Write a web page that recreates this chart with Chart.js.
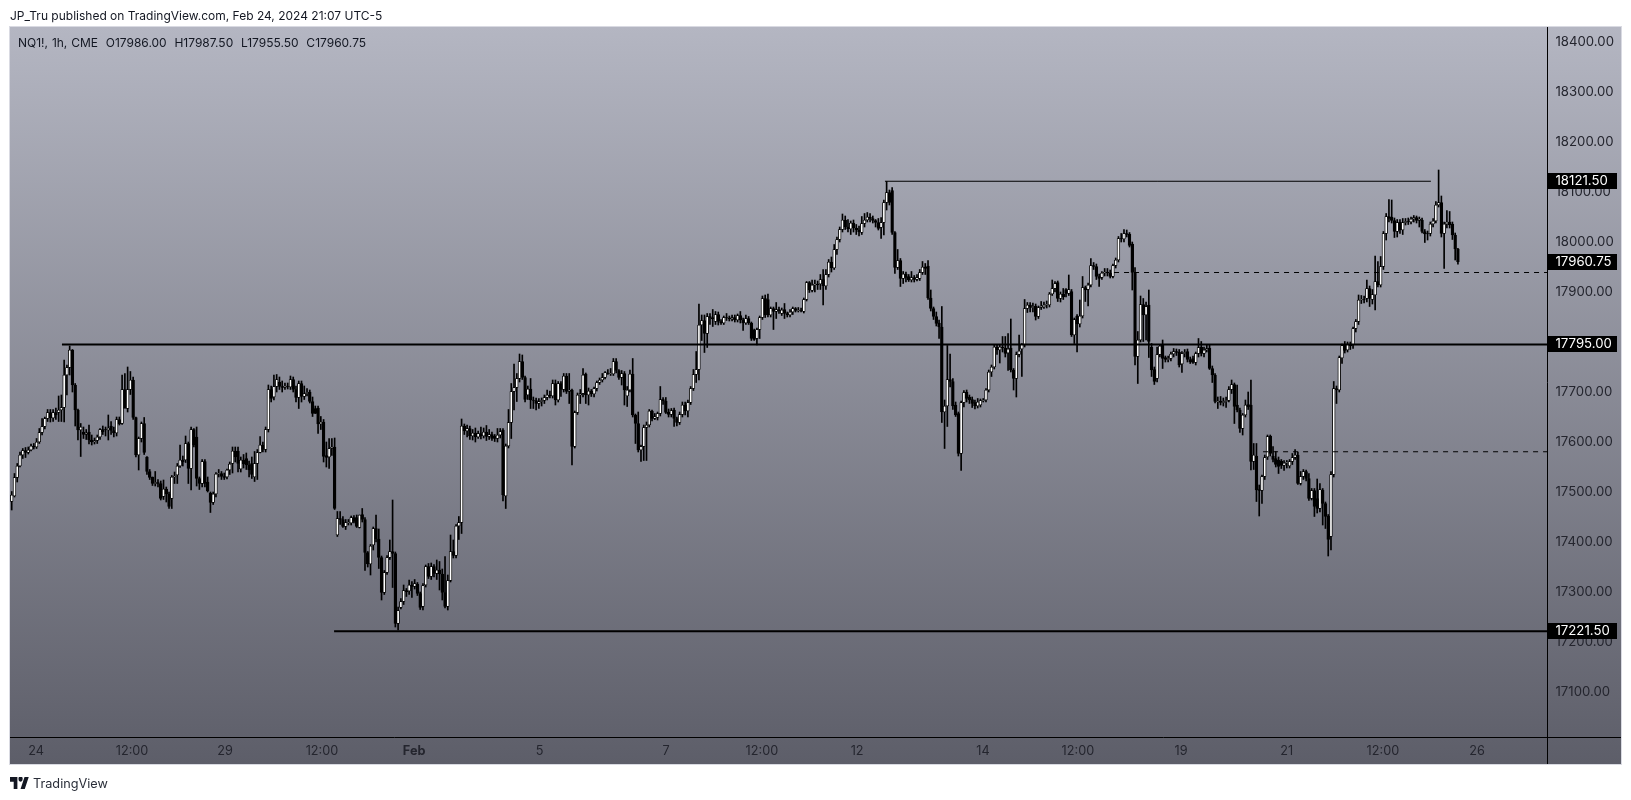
<!DOCTYPE html>
<html><head><meta charset="utf-8">
<script src="https://cdn.jsdelivr.net/npm/chart.js@4"></script>
<style>
html,body{margin:0;padding:0;background:#fff;width:1631px;height:800px;overflow:hidden}
#wrap{position:absolute;left:0;top:0;width:1631px;height:800px}
.t{position:absolute;font-family:Inter,"Noto Sans",sans-serif;color:#131722;white-space:pre}
#head{left:10px;top:7px;font-size:12px;line-height:18px}
#legend{left:18px;top:34px;font-size:12px;line-height:18px;word-spacing:0.5px}
#foot{left:33px;top:775px;font-size:12.7px;line-height:18px;color:#2a2e39}
#logo{position:absolute;left:10px;top:777px;width:19px;height:12px}
</style></head><body>
<div id="wrap"><canvas id="c" width="1631" height="800" style="width:1631px;height:800px;display:block"></canvas>
<div class="t" id="head">JP_Tru published on TradingView.com, Feb 24, 2024 21:07 UTC-5</div>
<div class="t" id="legend">NQ1!, 1h, CME  O17986.00  H17987.50  L17955.50  C17960.75</div>
<svg id="logo" viewBox="0 4 36 18" preserveAspectRatio="none"><path d="M14 22H7V11H0V4h14v18zM28 22h-8l7.5-18h8L28 22z" fill="#131722"/><circle cx="20" cy="7" r="4" fill="#131722"/></svg>
<div class="t" id="foot">TradingView</div></div>
<script>
const opens=[
17481,17492,17529,17552,17574,17583,17579,17584,17592,17590,
17600,17619,17631,17647,17659,17648,17659,17659,17664,17669,17734,
17749,17784,17714,17664,17624,17620,17615,17620,17604,17600,
17603,17610,17625,17625,17624,17632,17623,17618,17645,17637,17705,
17667,17705,17724,17649,17574,17607,17637,17570,17541,17530,
17517,17519,17517,17491,17506,17496,17487,17530,17534,17552,17564,
17564,17597,17547,17625,17610,17527,17517,17561,17520,17498,
17479,17496,17536,17537,17531,17530,17544,17557,17582,17582,17546,
17564,17567,17554,17557,17530,17557,17579,17594,17585,17625,
17705,17690,17711,17720,17711,17709,17712,17710,17725,17705,
17689,17717,17691,17697,17700,17681,17667,17668,17636,17640,
17573,17570,17587,17590,
17414,17447,17445,17431,17439,17438,17449,17449,17429,17455,
17445,17379,17356,17394,17427,17406,17369,17299,17339,17369,
17381,17377,17237,17269,17281,17303,17302,17314,17311,17316,
17297,17271,17314,17351,17331,17351,17337,17344,17336,17299,
17271,17323,17381,17373,17432,17439,
17632,17622,17627,17612,17618,17610,17617,17612,17620,17611,17615,
17612,17607,17614,17624,17492,17592,17639,17701,17709,17727,
17761,17729,17694,17706,17684,17683,17677,17681,17683,17689,
17694,17692,17717,17684,17717,17705,17732,17701,17704,17591,
17659,17694,17697,17736,17694,17702,17696,17707,17719,17724,
17729,17738,17737,17736,17761,17743,17729,17737,17692,17704,
17736,17654,17637,17584,17591,17629,17634,17662,17647,17649,
17657,17685,17682,17660,17655,17664,17647,17639,17655,
17674,17662,17679,17707,17735,17745,17834,17843,17817,17851,
17849,17841,17855,17841,17838,17849,17848,17846,17849,17844,
17853,17844,17838,17847,17838,17824,17807,17825,17849,17887,
17885,17854,17867,17861,17865,17857,17865,17857,17854,17860,
17867,17863,17864,17861,17885,17919,17903,17914,17916,17916,
17925,17912,17935,17960,17948,17985,18005,18025,18044,18030,18026,18038,18028,18024,
18019,18037,18044,18050,18047,18043,18039,18029,18039,18079,
18099,18103,18019,17949,17963,17927,17936,17931,17924,17929,
17925,17927,17939,17950,17952,17888,17867,17851,17838,17830,
17660,17672,17725,17721,17674,17657,17577,17679,17700,17690,
17685,17679,17672,17674,17683,17684,17704,17740,17750,17790,
17784,17790,17788,17778,17788,17744,17727,17775,
17786,17794,17867,17874,17869,17872,17851,17869,17870,17874,
17874,17896,17907,17919,17887,17896,17905,17897,17901,17814,
17852,17836,17852,17909,17905,17914,17953,17951,17931,17929,
17938,17940,17938,17931,17953,17964,18007,18006,18017,18016,
17996,17939,17771,17804,17875,17854,17874,17790,17745,17727,
17775,17794,17769,17765,17767,17776,17781,17780,
17756,17777,17781,17765,17767,17759,17777,17790,17777,17784,
17788,17747,17734,17681,17682,17679,17681,17683,17705,17715,
17674,17664,17627,17654,17675,
17674,17561,17572,17505,17503,17531,17570,17612,17572,17567,
17564,17562,17553,17558,17552,17561,17569,17574,17517,17531,
17541,17527,17487,17503,17487,17467,17504,17477,17452,17411,
17535,17707,17704,17768,17794,17784,17796,
17794,17827,17841,17884,17885,17887,17907,17885,17894,17921,
17914,17951,18017,18051,18050,18043,18021,18040,18024,18039,
18041,18040,18046,18049,18043,18044,18021,18017,18017,18036,
18042,18074,18079,18017,18036,18040,18036,18014,17986];
const highs=[
17501,17537,17557,17580,17587,17589,17590,17596,17597,17607,
17627,17647,17650,17665,17665,17665,17668,17692,17694,17764,17754,
17792,17785,17717,17666,17637,17630,17625,17634,17614,17608,
17614,17627,17632,17630,17654,17641,17630,17650,17650,17734,17737,
17750,17741,17730,17650,17610,17640,17649,17571,17545,17530,
17541,17525,17522,17524,17510,17500,17533,17540,17557,17594,17572,
17612,17600,17630,17627,17630,17530,17565,17565,17530,17500,
17500,17539,17545,17541,17538,17546,17560,17590,17590,17590,17570,
17575,17578,17562,17570,17581,17585,17611,17600,17630,17714,
17712,17734,17735,17730,17722,17718,17718,17732,17730,17712,
17722,17722,17712,17707,17704,17690,17672,17672,17651,17645,
17600,17607,17607,17608,
17461,17461,17451,17445,17445,17452,17453,17454,17454,17467,
17449,17381,17395,17430,17454,17426,17372,17343,17373,17404,
17484,17380,17270,17287,17314,17307,17324,17321,17325,17319,
17300,17317,17354,17357,17358,17355,17364,17361,17346,17371,
17334,17414,17404,17435,17451,17646,
17636,17634,17632,17625,17628,17622,17630,17628,17633,17625,17620,
17615,17627,17627,17627,17596,17665,17717,17756,17737,17776,
17774,17732,17712,17727,17690,17688,17687,17688,17694,17704,
17702,17724,17724,17721,17721,17737,17737,17737,17706,17662,
17698,17705,17747,17738,17708,17705,17710,17722,17728,17737,
17741,17745,17747,17767,17767,17745,17743,17741,17711,17744,
17767,17656,17660,17594,17634,17640,17665,17664,17657,17660,
17711,17689,17689,17666,17667,17668,17650,17660,17680,
17680,17684,17711,17745,17781,17876,17854,17854,17857,17857,
17865,17861,17860,17845,17852,17857,17852,17854,17854,17856,
17861,17848,17854,17851,17840,17826,17828,17852,17892,17894,
17896,17870,17870,17879,17870,17868,17877,17860,17865,17870,
17869,17869,17868,17888,17921,17921,17924,17924,17922,17935,
17945,17945,17965,17970,17995,18010,18030,18056,18052,18045,18042,18044,18035,18032,
18051,18057,18059,18057,18052,18045,18047,18049,18084,18121,
18104,18109,18021,17985,17967,17941,17940,17935,17941,17933,
17935,17945,17961,17957,17963,17904,17870,17860,17844,17871,
17684,17793,17776,17727,17680,17660,17682,17703,17704,17694,
17690,17684,17687,17686,17687,17707,17744,17754,17794,17794,
17794,17811,17811,17817,17846,17747,17780,17814,
17797,17885,17879,17879,17878,17876,17872,17881,17880,17882,
17899,17924,17921,17922,17900,17907,17907,17934,17905,17848,
17855,17884,17931,17912,17918,17967,17959,17956,17936,17941,
17947,17947,17944,17956,17968,18011,18017,18025,18024,18019,
18000,17949,17821,17892,17887,17880,17904,17797,17750,17790,
17795,17804,17772,17772,17780,17787,17786,17785,
17781,17785,17786,17770,17772,17780,17807,17801,17790,17794,
17794,17752,17737,17690,17691,17688,17690,17711,17724,17718,
17714,17668,17657,17684,17700,
17724,17597,17597,17514,17534,17574,17614,17614,17591,17581,
17570,17565,17563,17563,17565,17577,17585,17580,17541,17545,
17544,17537,17507,17507,17526,17517,17507,17480,17455,17541,
17721,17712,17772,17796,17801,17800,17800,
17830,17845,17894,17893,17892,17924,17912,17905,17972,17961,
17971,18021,18057,18085,18084,18048,18045,18045,18047,18047,
18048,18050,18053,18052,18050,18048,18025,18022,18040,18047,
18081,18144,18092,18040,18063,18061,18040,18018,17987.5];
const lows=[
17464,17490,17520,17550,17567,17569,17576,17582,17586,17587,
17597,17614,17626,17641,17640,17641,17645,17641,17641,17640,17694,
17734,17700,17632,17604,17571,17607,17605,17596,17594,17596,
17597,17605,17615,17612,17604,17615,17610,17612,17634,17635,17680,
17660,17695,17645,17570,17544,17600,17575,17535,17525,17513,
17512,17510,17484,17485,17480,17467,17467,17517,17517,17549,17552,
17559,17517,17504,17590,17512,17505,17510,17510,17500,17459,
17475,17490,17530,17525,17525,17526,17535,17538,17560,17540,17540,
17548,17545,17530,17527,17521,17525,17578,17580,17580,17620,
17680,17684,17700,17705,17700,17705,17706,17705,17700,17680,
17667,17680,17685,17692,17678,17651,17657,17617,17625,17560,
17550,17547,17573,17465,
17411,17435,17429,17425,17434,17434,17438,17429,17428,17440,
17343,17350,17334,17384,17400,17347,17284,17295,17335,17365,
17309,17230,17224,17266,17275,17291,17295,17289,17306,17293,
17265,17264,17310,17327,17325,17330,17325,17304,17284,17268,
17264,17320,17368,17368,17405,17417,
17615,17610,17605,17604,17600,17607,17606,17608,17603,17605,17603,
17601,17600,17608,17482,17467,17588,17607,17664,17681,17720,
17725,17680,17685,17667,17667,17664,17667,17672,17677,17684,
17688,17688,17674,17680,17691,17700,17697,17677,17554,17588,
17655,17677,17690,17677,17674,17691,17690,17702,17715,17720,
17726,17735,17733,17733,17738,17725,17714,17674,17671,17700,
17650,17597,17580,17561,17563,17563,17630,17642,17645,17644,
17652,17675,17657,17650,17650,17631,17632,17635,17650,
17654,17650,17675,17703,17719,17724,17803,17779,17789,17835,
17831,17835,17834,17835,17835,17843,17842,17842,17840,17840,
17838,17823,17835,17835,17803,17803,17794,17807,17845,17849,
17850,17850,17825,17847,17857,17853,17847,17850,17850,17855,
17860,17860,17860,17858,17882,17899,17900,17900,17905,17905,
17874,17905,17930,17940,17945,17975,18000,18020,18025,18020,18015,18020,18015,18012,
18015,18030,18040,18040,18038,18030,18024,18007,18014,18064,
18074,18015,17937,17945,17911,17917,17920,17921,17920,17920,
17922,17923,17935,17935,17885,17862,17845,17832,17807,17639,
17587,17631,17710,17665,17651,17572,17543,17670,17680,17677,
17669,17666,17668,17670,17680,17680,17700,17731,17746,17775,
17758,17780,17770,17743,17740,17704,17690,17770,
17731,17790,17859,17860,17860,17844,17847,17865,17867,17868,
17870,17893,17900,17881,17880,17885,17890,17893,17811,17797,
17780,17830,17848,17881,17872,17910,17945,17925,17911,17925,
17932,17932,17928,17928,17948,17960,18000,18000,18010,17990,
17904,17754,17717,17800,17801,17804,17769,17731,17715,17720,
17770,17747,17760,17760,17762,17770,17773,17750,
17739,17770,17760,17757,17757,17754,17770,17772,17770,17780,
17745,17719,17678,17667,17674,17672,17669,17680,17697,17637,
17660,17619,17614,17650,17665,
17544,17545,17481,17452,17477,17525,17565,17572,17560,17550,
17537,17547,17543,17548,17548,17555,17565,17515,17514,17525,
17522,17483,17484,17451,17458,17460,17434,17427,17372,17384,
17530,17677,17700,17757,17778,17780,17785,
17787,17820,17835,17877,17878,17880,17871,17876,17864,17910,
17910,17945,18004,18040,18038,18009,18010,18017,18015,18034,
18035,18036,18040,18038,18030,18018,17999,18004,18012,18030,
18038,18070,18010,17947,18028,18028,18005,17964,17955.5];
const closes=[
17494,17529,17552,17574,17583,17579,17584,17592,17590,17600,
17619,17631,17647,17659,17648,17659,17654,17664,17669,17734,17749,
17784,17714,17664,17624,17630,17615,17618,17604,17600,17603,
17610,17625,17620,17624,17628,17623,17618,17645,17636,17705,17667,
17705,17724,17649,17574,17607,17637,17579,17541,17529,17517,
17519,17517,17487,17506,17496,17471,17530,17532,17552,17564,17560,
17597,17547,17625,17594,17527,17517,17561,17517,17502,17479,
17496,17536,17537,17531,17529,17544,17556,17582,17570,17557,17564,
17556,17554,17544,17535,17557,17579,17594,17585,17625,17705,
17687,17711,17725,17711,17709,17712,17711,17725,17705,17689,
17717,17691,17697,17699,17681,17657,17657,17636,17640,17571,
17569,17587,17590,17467,
17447,17445,17431,17439,17440,17449,17441,17431,17454,17445,
17379,17356,17392,17427,17406,17369,17299,17339,17369,17381,
17377,17237,17263,17281,17303,17300,17314,17311,17317,17297,
17269,17313,17351,17331,17351,17337,17344,17336,17299,17271,
17323,17381,17373,17432,17439,17632,
17622,17627,17612,17618,17610,17617,17612,17620,17611,17615,17607,
17607,17614,17621,17494,17592,17639,17701,17709,17727,17761,
17729,17685,17706,17684,17683,17677,17681,17683,17689,17694,
17692,17717,17684,17717,17705,17732,17701,17704,17591,17659,
17694,17697,17734,17694,17702,17696,17707,17719,17724,17729,
17739,17737,17738,17761,17743,17729,17737,17704,17704,17736,
17654,17637,17584,17591,17629,17634,17662,17647,17651,17657,
17685,17682,17659,17655,17663,17647,17639,17655,17674,
17662,17679,17707,17735,17745,17834,17843,17817,17851,17849,
17846,17855,17841,17838,17849,17848,17846,17849,17844,17853,
17844,17838,17847,17838,17807,17805,17825,17849,17887,17854,
17854,17867,17861,17865,17862,17864,17857,17854,17860,17867,
17863,17864,17863,17885,17919,17904,17914,17916,17914,17925,
17912,17935,17960,17948,17985,18005,18025,18044,18030,18026,18038,18028,18024,18020,
18037,18044,18050,18047,18043,18039,18027,18039,18079,18099,
18079,18019,17949,17963,17927,17936,17929,17924,17929,17925,
17929,17939,17950,17947,17888,17867,17851,17837,17830,17660,
17672,17725,17721,17672,17654,17577,17679,17699,17687,17684,
17677,17672,17680,17683,17684,17704,17740,17750,17790,17784,
17790,17788,17777,17786,17744,17727,17775,17782,
17795,17867,17874,17869,17871,17851,17869,17872,17874,17875,
17896,17907,17917,17887,17896,17890,17897,17905,17814,17845,
17836,17852,17909,17904,17914,17953,17951,17931,17927,17938,
17940,17938,17931,17953,17964,18007,18006,18017,18015,17993,
17939,17771,17804,17875,17854,17871,17801,17744,17721,17775,
17792,17767,17765,17767,17776,17781,17779,17754,
17777,17779,17765,17760,17759,17777,17789,17777,17784,17787,
17747,17734,17681,17682,17679,17681,17683,17705,17715,17671,
17664,17627,17654,17674,17670,
17561,17574,17504,17503,17531,17569,17611,17577,17565,17555,
17551,17553,17558,17559,17561,17569,17574,17517,17531,17541,
17527,17487,17503,17471,17467,17505,17477,17451,17405,17535,
17707,17704,17769,17793,17783,17796,17792,
17827,17841,17884,17885,17884,17907,17887,17895,17921,17914,
17951,18017,18051,18047,18043,18021,18039,18024,18039,18041,
18040,18046,18049,18043,18046,18021,18016,18016,18036,18042,
18074,18079,18017,18036,18040,18034,18014,17986,17960.75];
const yTickValues=[17100,17200,17300,17400,17500,17600,17700,17800,17900,18000,18100,18200,18300,18400];
const timeTickBars=[8.8,43.6,77.3,112.4,145.8,191.3,237.1,271.8,306.3,351.9,386.3,423.7,462,496.8,530.9];
const timeTickLabels=["24","12:00","29","12:00","Feb","5","7","12:00","12","14","12:00","19","21","12:00","26"];
const priceTags=[18121.5,17960.75,17795,17221.5];
const levelPrices=[17795,17221.5,18121.5,17939,17580.5];
const levelStartBars=[18.2,116.8,316.4,399.4,453.4];
const levelEndBars=[556.27,556.27,514.2,556.27,556.27];
const levelWidths=[2,2,1,1,1];
const levelDashes=[[],[],[],[5,5],[5,5]];
const bars=closes.map((_,i)=>i);
const panel=()=>({l:10,t:27,r:1621,b:764});
const bgPlugin={id:'bg',beforeDraw(ch){const x=ch.ctx,p=panel();
 const g=x.createLinearGradient(0,p.t,0,p.b);g.addColorStop(0,'#b4b6c2');g.addColorStop(1,'#5d5e69');
 x.save();x.fillStyle=g;x.fillRect(p.l,p.t,p.r-p.l,p.b-p.t);
 x.strokeStyle='#d9dae2';x.lineWidth=1;x.strokeRect(p.l-.5,p.t-.5,p.r-p.l+1,p.b-p.t+1);x.restore();},
 afterDraw(ch){const x=ch.ctx,a=ch.chartArea,ys=ch.scales.y;x.save();
 x.fillStyle='#000';x.fillRect(a.right,a.bottom,panel().r-a.right,1);x.fillRect(a.right,a.bottom,1,panel().b-a.bottom);
 x.font='13.2px Inter, "Noto Sans", sans-serif';x.textBaseline='middle';x.textAlign='left';
 for(const v of priceTags){const y=ys.getPixelForValue(v);x.fillStyle='#000';x.fillRect(a.right,Math.round(y)-8,70,16);
 x.fillStyle='#fff';x.fillText(v.toFixed(2),a.right+8.5,Math.round(y)+.5);}
 x.restore();}};
const wick=bars.map(i=>({x:i,y:[lows[i],highs[i]]}));
const body=bars.map(i=>({x:i,y:[Math.min(opens[i],closes[i]),Math.max(opens[i],closes[i])]}));
const up=bars.map(i=>closes[i]>=opens[i]);
const levels=levelPrices.map((v,k)=>({type:'line',data:[{x:levelStartBars[k],y:v},{x:levelEndBars[k],y:v}],borderColor:'#000',borderWidth:levelWidths[k],borderDash:levelDashes[k],pointRadius:0,fill:false,order:0,clip:false}));
new Chart(document.getElementById('c'),{
 type:'bar',plugins:[bgPlugin],
 data:{datasets:[
  {type:'bar',data:wick,backgroundColor:'#000',barThickness:1,grouped:false,order:3,borderWidth:0},
  {type:'bar',data:body,backgroundColor:c=>up[c.dataIndex]?'#fff':'#000',borderColor:'#000',borderWidth:.9,borderSkipped:false,barThickness:2.8,grouped:false,order:2},
  ...levels]},
 options:{responsive:false,animation:false,devicePixelRatio:1,
  layout:{padding:{left:10,top:27,right:10,bottom:36}},
  plugins:{legend:{display:false},tooltip:{enabled:false},title:{display:false}},
  scales:{
   x:{type:'linear',min:-0.62,max:556.27,offset:false,
    grid:{display:false,drawTicks:false},border:{display:true,color:'#000',width:1},
    afterBuildTicks(s){s.ticks=timeTickBars.map(v=>({value:v}));},
    afterFit(s){s.height=27;},
    ticks:{autoSkip:false,maxRotation:0,padding:7,color:'#24252e',font:c=>({family:'Inter, "Noto Sans", sans-serif',size:12.7,weight:(c.tick&&timeTickLabels[timeTickBars.indexOf(c.tick.value)]==='Feb')?'bold':'normal'}),
     callback:(v)=>timeTickLabels[timeTickBars.indexOf(v)]}},
   y:{type:'linear',position:'right',min:17010,max:18430,
    grid:{display:false,drawTicks:false},border:{display:true,color:'#000',width:1},
    afterBuildTicks(s){s.ticks=yTickValues.map(v=>({value:v}));},
    afterFit(s){s.width=74;},
    ticks:{padding:8.5,color:'#24252e',font:{family:'Inter, "Noto Sans", sans-serif',size:13.2},callback:v=>v.toFixed(2)}}
  }}});
</script></body></html>
